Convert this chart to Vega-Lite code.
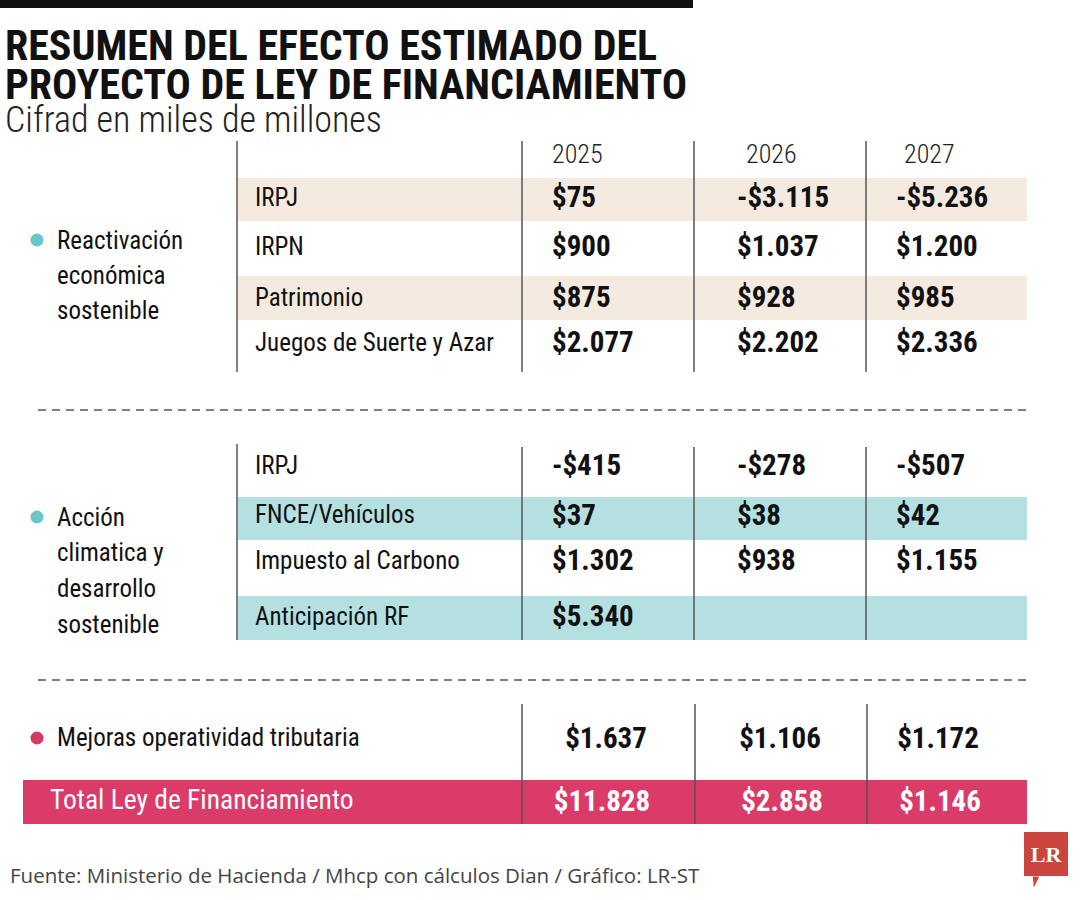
{
  "$schema": "https://vega.github.io/schema/vega-lite/v6.json",
  "width": 1080,
  "height": 900,
  "autosize": {"type": "fit", "contains": "padding"},
  "padding": 0,
  "background": "white",
  "view": {"stroke": null},
  "config": {"font": "'Roboto Condensed', 'DejaVu Sans Condensed', 'Liberation Sans', sans-serif"},
  "datasets": {
    "bands": [
      {"part": "top bar", "kind": "black", "x": 0, "x2": 693, "y": 0, "y2": 8},
      {"part": "IRPJ", "kind": "beige", "x": 238, "x2": 1027, "y": 178, "y2": 221},
      {"part": "Patrimonio", "kind": "beige", "x": 238, "x2": 1027, "y": 276, "y2": 320},
      {"part": "FNCE/Vehículos", "kind": "teal", "x": 238, "x2": 1027, "y": 497, "y2": 540},
      {"part": "Anticipación RF", "kind": "teal", "x": 238, "x2": 1027, "y": 596, "y2": 640},
      {"part": "Total", "kind": "pink", "x": 23, "x2": 1027, "y": 780, "y2": 824},
      {"part": "logo", "kind": "logo", "x": 1024, "x2": 1068, "y": 832, "y2": 876}
    ],
    "rules": [
      {"kind": "solid", "x": 237, "x2": 237, "y": 141, "y2": 372},
      {"kind": "solid", "x": 522, "x2": 522, "y": 141, "y2": 372},
      {"kind": "solid", "x": 694, "x2": 694, "y": 141, "y2": 372},
      {"kind": "solid", "x": 866, "x2": 866, "y": 141, "y2": 372},
      {"kind": "solid", "x": 237, "x2": 237, "y": 444, "y2": 640},
      {"kind": "solid", "x": 522, "x2": 522, "y": 447, "y2": 640},
      {"kind": "solid", "x": 694, "x2": 694, "y": 447, "y2": 640},
      {"kind": "solid", "x": 866, "x2": 866, "y": 447, "y2": 640},
      {"kind": "solid", "x": 522, "x2": 522, "y": 704, "y2": 824},
      {"kind": "solid", "x": 695, "x2": 695, "y": 704, "y2": 824},
      {"kind": "solid", "x": 867, "x2": 867, "y": 704, "y2": 824},
      {"kind": "dashed", "x": 38, "x2": 1027, "y": 410, "y2": 410},
      {"kind": "dashed", "x": 38, "x2": 1027, "y": 680, "y2": 680}
    ],
    "bullets": [
      {"group": "Reactivación económica sostenible", "kind": "tealdot", "x": 37, "y": 240},
      {"group": "Acción climatica y desarrollo sostenible", "kind": "tealdot", "x": 37, "y": 517},
      {"group": "Mejoras operatividad tributaria", "kind": "pinkdot", "x": 37, "y": 738}
    ],
    "texts": [
      {"style": "title", "text": "RESUMEN DEL EFECTO ESTIMADO DEL", "x": 5, "y": 60},
      {"style": "title", "text": "PROYECTO DE LEY DE FINANCIAMIENTO", "x": 5, "y": 99},
      {"style": "subtitle", "text": "Cifrad en miles de millones", "x": 5, "y": 132},
      {"style": "year", "text": "2025", "x": 552, "y": 155},
      {"style": "year", "text": "2026", "x": 746, "y": 155},
      {"style": "year", "text": "2027", "x": 904, "y": 155},
      {"style": "label", "text": "IRPJ", "x": 255, "y": 198},
      {"style": "label", "text": "IRPN", "x": 255, "y": 247},
      {"style": "label", "text": "Patrimonio", "x": 255, "y": 298},
      {"style": "label", "text": "Juegos de Suerte y Azar", "x": 255, "y": 343},
      {"style": "label", "text": "IRPJ", "x": 255, "y": 466},
      {"style": "label", "text": "FNCE/Vehículos", "x": 255, "y": 515},
      {"style": "label", "text": "Impuesto al Carbono", "x": 255, "y": 561},
      {"style": "label", "text": "Anticipación RF", "x": 255, "y": 617},
      {"style": "label", "text": "Reactivación", "x": 57, "y": 241},
      {"style": "label", "text": "económica", "x": 57, "y": 276},
      {"style": "label", "text": "sostenible", "x": 57, "y": 311},
      {"style": "label", "text": "Acción", "x": 57, "y": 518},
      {"style": "label", "text": "climatica y", "x": 57, "y": 553},
      {"style": "label", "text": "desarrollo", "x": 57, "y": 589},
      {"style": "label", "text": "sostenible", "x": 57, "y": 625},
      {"style": "label", "text": "Mejoras operatividad tributaria", "x": 57, "y": 738},
      {"style": "total label", "text": "Total Ley de Financiamiento", "x": 50, "y": 801},
      {"style": "footer", "text": "Fuente: Ministerio de Hacienda / Mhcp con cálculos Dian / Gráfico: LR-ST", "x": 10, "y": 877},
      {"style": "logo", "text": "LR", "x": 1046, "y": 855}
    ],
    "values": [
      {"item": "IRPJ", "year": 2025, "v": "$75", "x": 552, "y": 198},
      {"item": "IRPJ", "year": 2026, "v": "-$3.115", "x": 737, "y": 198},
      {"item": "IRPJ", "year": 2027, "v": "-$5.236", "x": 896, "y": 198},
      {"item": "IRPN", "year": 2025, "v": "$900", "x": 552, "y": 247},
      {"item": "IRPN", "year": 2026, "v": "$1.037", "x": 737, "y": 247},
      {"item": "IRPN", "year": 2027, "v": "$1.200", "x": 896, "y": 247},
      {"item": "Patrimonio", "year": 2025, "v": "$875", "x": 552, "y": 298},
      {"item": "Patrimonio", "year": 2026, "v": "$928", "x": 737, "y": 298},
      {"item": "Patrimonio", "year": 2027, "v": "$985", "x": 896, "y": 298},
      {"item": "Juegos de Suerte y Azar", "year": 2025, "v": "$2.077", "x": 552, "y": 343},
      {"item": "Juegos de Suerte y Azar", "year": 2026, "v": "$2.202", "x": 737, "y": 343},
      {"item": "Juegos de Suerte y Azar", "year": 2027, "v": "$2.336", "x": 896, "y": 343},
      {"item": "IRPJ (clima)", "year": 2025, "v": "-$415", "x": 552, "y": 466},
      {"item": "IRPJ (clima)", "year": 2026, "v": "-$278", "x": 737, "y": 466},
      {"item": "IRPJ (clima)", "year": 2027, "v": "-$507", "x": 896, "y": 466},
      {"item": "FNCE/Vehículos", "year": 2025, "v": "$37", "x": 552, "y": 516},
      {"item": "FNCE/Vehículos", "year": 2026, "v": "$38", "x": 737, "y": 516},
      {"item": "FNCE/Vehículos", "year": 2027, "v": "$42", "x": 896, "y": 516},
      {"item": "Impuesto al Carbono", "year": 2025, "v": "$1.302", "x": 552, "y": 561},
      {"item": "Impuesto al Carbono", "year": 2026, "v": "$938", "x": 737, "y": 561},
      {"item": "Impuesto al Carbono", "year": 2027, "v": "$1.155", "x": 896, "y": 561},
      {"item": "Anticipación RF", "year": 2025, "v": "$5.340", "x": 552, "y": 617}
    ],
    "centered": [
      {"item": "Mejoras operatividad tributaria", "year": 2025, "v": "$1.637", "x": 606, "y": 739, "kind": "dark"},
      {"item": "Mejoras operatividad tributaria", "year": 2026, "v": "$1.106", "x": 780, "y": 739, "kind": "dark"},
      {"item": "Mejoras operatividad tributaria", "year": 2027, "v": "$1.172", "x": 938, "y": 739, "kind": "dark"},
      {"item": "Total Ley de Financiamiento", "year": 2025, "v": "$11.828", "x": 602, "y": 802, "kind": "light"},
      {"item": "Total Ley de Financiamiento", "year": 2026, "v": "$2.858", "x": 782, "y": 802, "kind": "light"},
      {"item": "Total Ley de Financiamiento", "year": 2027, "v": "$1.146", "x": 940, "y": 802, "kind": "light"}
    ]
  },
  "encoding": {
    "x": {"field": "x", "type": "quantitative", "scale": {"domain": [0, 1080], "nice": false, "zero": false}, "axis": null},
    "y": {"field": "y", "type": "quantitative", "scale": {"domain": [0, 900], "nice": false, "zero": false, "reverse": true}, "axis": null}
  },
  "layer": [
    {
      "data": {"name": "bands"},
      "mark": {"type": "rect"},
      "encoding": {
        "x2": {"field": "x2"},
        "y2": {"field": "y2"},
        "color": {"field": "kind", "type": "nominal", "legend": null,
          "scale": {"domain": ["black", "beige", "teal", "pink", "logo"], "range": ["#111111", "#F5EADF", "#B4E0E1", "#DA3B69", "#C9453D"]}}
      }
    },
    {
      "data": {"name": "bands"},
      "transform": [{"filter": "datum.kind === 'logo'"}],
      "mark": {"type": "point", "shape": "M -0.6 -1 L 0.6 -1 L -0.4 1 Z", "filled": true, "color": "#C9453D", "size": 120, "opacity": 1},
      "encoding": {
        "y": {"field": "y2", "type": "quantitative"},
        "xOffset": {"value": 12}, "yOffset": {"value": 6}}
    },
    {
      "data": {"name": "rules"},
      "transform": [{"filter": "datum.kind === 'solid'"}],
      "mark": {"type": "rule", "color": "#555555", "strokeWidth": 1.5},
      "encoding": {"x2": {"field": "x2"}, "y2": {"field": "y2"}}
    },
    {
      "data": {"name": "rules"},
      "transform": [{"filter": "datum.kind === 'dashed'"}],
      "mark": {"type": "rule", "color": "#555555", "strokeWidth": 1.3, "strokeDash": [8, 6]},
      "encoding": {"x2": {"field": "x2"}, "y2": {"field": "y2"}}
    },
    {
      "data": {"name": "bullets"},
      "mark": {"type": "circle", "size": 170, "opacity": 1},
      "encoding": {
        "color": {"field": "kind", "type": "nominal", "legend": null,
          "scale": {"domain": ["tealdot", "pinkdot"], "range": ["#6BC6C7", "#D63A63"]}}
      }
    },
    {
      "data": {"name": "texts"},
      "transform": [{"filter": "datum.style === 'title'"}],
      "mark": {"type": "text", "align": "left", "baseline": "alphabetic", "fontSize": 42, "fontWeight": "bold", "color": "#111111"},
      "encoding": {"text": {"field": "text"}}
    },
    {
      "data": {"name": "texts"},
      "transform": [{"filter": "datum.style === 'subtitle'"}],
      "mark": {"type": "text", "align": "left", "baseline": "alphabetic", "fontSize": 36, "fontWeight": 300, "color": "#222222"},
      "encoding": {"text": {"field": "text"}}
    },
    {
      "data": {"name": "texts"},
      "transform": [{"filter": "datum.style === 'year'"}],
      "mark": {"type": "text", "align": "left", "baseline": "middle", "fontSize": 26, "fontWeight": 300, "color": "#222222"},
      "encoding": {"text": {"field": "text"}}
    },
    {
      "data": {"name": "texts"},
      "transform": [{"filter": "datum.style === 'label'"}],
      "mark": {"type": "text", "align": "left", "baseline": "middle", "fontSize": 25, "color": "#111111"},
      "encoding": {"text": {"field": "text"}}
    },
    {
      "data": {"name": "texts"},
      "transform": [{"filter": "datum.style === 'total label'"}],
      "mark": {"type": "text", "align": "left", "baseline": "middle", "fontSize": 27.5, "color": "white"},
      "encoding": {"text": {"field": "text"}}
    },
    {
      "data": {"name": "texts"},
      "transform": [{"filter": "datum.style === 'footer'"}],
      "mark": {"type": "text", "align": "left", "baseline": "middle", "fontSize": 20.5, "font": "Open Sans", "color": "#444444"},
      "encoding": {"text": {"field": "text"}}
    },
    {
      "data": {"name": "texts"},
      "transform": [{"filter": "datum.style === 'logo'"}],
      "mark": {"type": "text", "align": "center", "baseline": "middle", "fontSize": 22, "fontWeight": "bold", "font": "Liberation Serif", "color": "white"},
      "encoding": {"text": {"field": "text"}}
    },
    {
      "data": {"name": "values"},
      "mark": {"type": "text", "align": "left", "baseline": "middle", "fontSize": 29, "fontWeight": "bold", "color": "#111111"},
      "encoding": {"text": {"field": "v"}}
    },
    {
      "data": {"name": "centered"},
      "mark": {"type": "text", "align": "center", "baseline": "middle", "fontSize": 29, "fontWeight": "bold"},
      "encoding": {"text": {"field": "v"},
        "color": {"field": "kind", "type": "nominal", "legend": null,
          "scale": {"domain": ["dark", "light"], "range": ["#111111", "#ffffff"]}}}
    }
  ],
  "resolve": {"scale": {"color": "independent"}}
}
